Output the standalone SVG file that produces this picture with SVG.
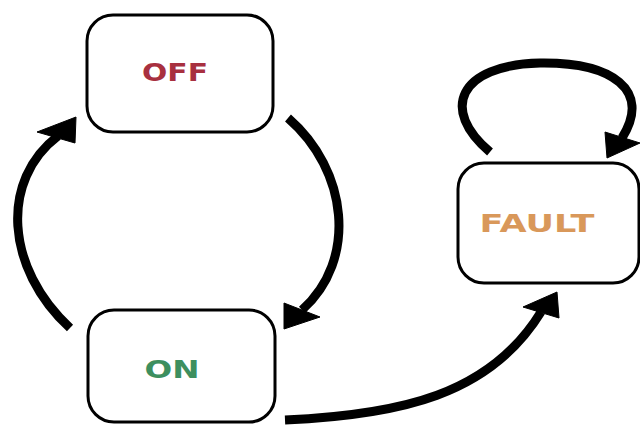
<svg xmlns="http://www.w3.org/2000/svg" width="640" height="426" viewBox="0 0 640 426">
  <style>
    .box { fill: #ffffff; stroke: #000000; stroke-width: 3; }
    .lbl { font-family: "DejaVu Sans", "Liberation Sans", sans-serif; font-weight: bold; font-size: 25px; text-anchor: middle; }
    .edge { fill: none; stroke: #000000; stroke-width: 9; stroke-linecap: butt; }
    .head { fill: #000000; stroke: #000000; stroke-width: 1; stroke-linejoin: miter; }
  </style>
  <rect width="640" height="426" fill="#ffffff"/>
  <g id="node-off">
    <rect class="box" x="87" y="15" width="186" height="117" rx="26" ry="26"/>
    <text class="lbl" x="175" y="81" fill="#a8303f" textLength="66" lengthAdjust="spacingAndGlyphs">OFF</text>
  </g>
  <g id="node-on">
    <rect class="box" x="88" y="310" width="187" height="112" rx="26" ry="26"/>
    <text class="lbl" x="172" y="378" fill="#3d8f5f" textLength="55" lengthAdjust="spacingAndGlyphs">ON</text>
  </g>
  <g id="node-fault">
    <rect class="box" x="458" y="163" width="181" height="120" rx="26" ry="26"/>
    <text class="lbl" x="537" y="232" fill="#d9985a" textLength="115" lengthAdjust="spacingAndGlyphs">FAULT</text>
  </g>
  <g id="connectors">
    <path class="edge" d="M 70 328 C 5 268 0 180 58 136"/>
    <polygon class="head" points="76,117 37,132 75,143"/>
    <path class="edge" d="M 288 118 C 348 170 358 260 302 310"/>
    <polygon class="head" points="284,329 320,317 284,303"/>
    <path class="edge" d="M 285 420 C 400 415 490 395 541 312"/>
    <polygon class="head" points="557,292 523,307 559,318"/>
    <path class="edge" d="M 490 152 C 440 110 458 65 540 63 C 612 62 652 90 622 138"/>
    <polygon class="head" points="607,158 605,132 640,143"/>
  </g>
</svg>
